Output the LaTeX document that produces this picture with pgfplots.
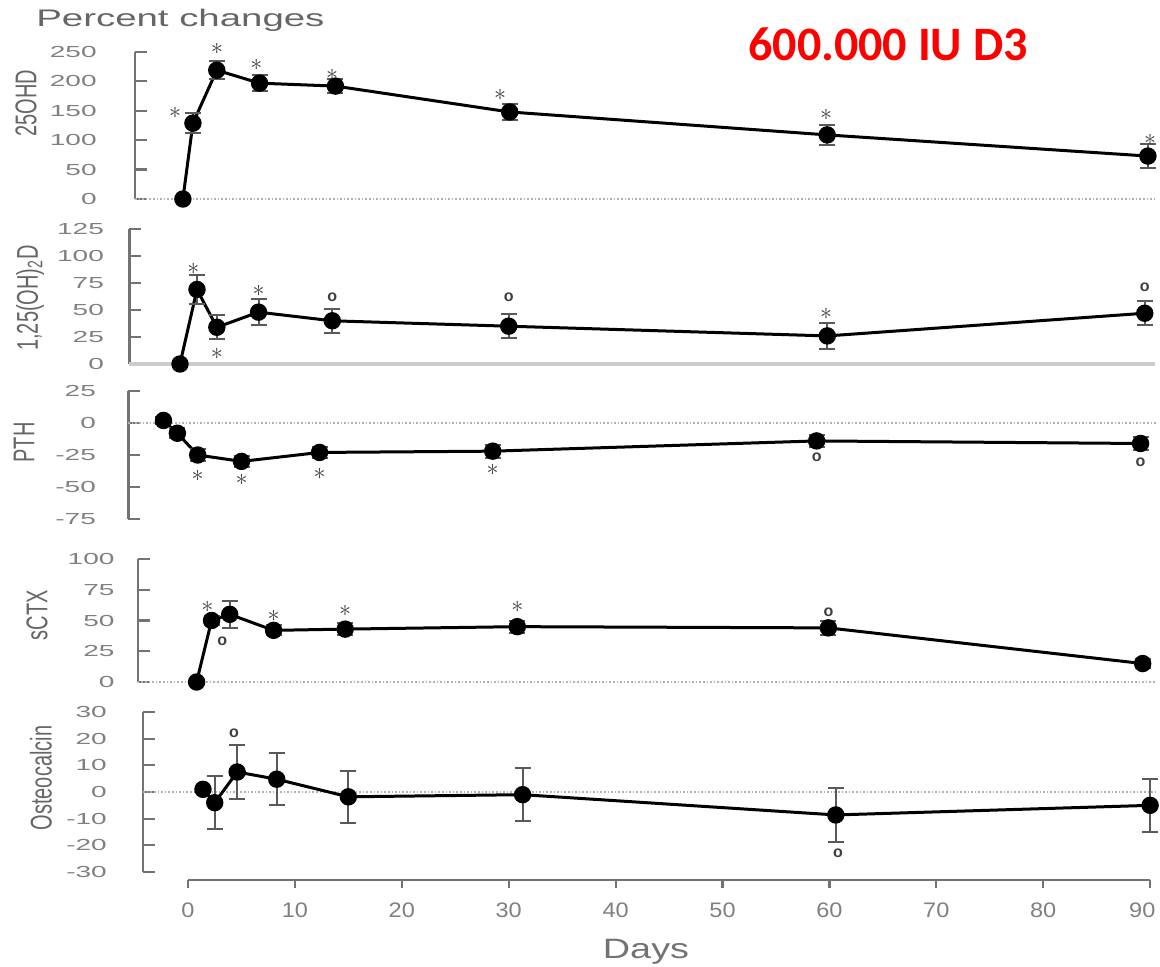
\documentclass[border=0pt]{standalone}
\usepackage{fontspec}
\setmainfont{Liberation Sans}
\newfontfamily\calibri{Carlito}
\usepackage{graphicx}
\usepackage{pgfplots}
\pgfplotsset{compat=1.18}

\newcommand\sa{{\fontsize{12}{12}\selectfont$\ast$}}
\newcommand\so{{\fontsize{8}{8}\selectfont\bfseries o}}

\pgfplotsset{
  panel/.style={
    x=5.345pt, xmax=90.5,
    axis y line*=left, axis x line=none,
    clip=false,
    y axis line style={black!55, line width=1.3pt, -},
    ytick style={black!55, line width=1.1pt},
    tick align=inside,
    major tick length=6pt,
    yticklabel style={font=\fontsize{8}{9}\selectfont, text=black!50},
    /pgf/number format/assume math mode=true,
    anchor=south west,
  },
  series/.style={black, line width=1.5pt, mark=*, mark size=3.6pt,
     mark options={solid, fill=black},
     error bars/.cd, y dir=both, y explicit,
     error bar style={black!65, line width=1pt},
     error mark options={rotate=90, mark size=4pt, black!65, line width=1pt}},
  sig/.style={only marks, mark=none, nodes near coords, point meta=explicit symbolic,
     nodes near coords style={anchor=center, text=black!75, inner sep=0pt}},
  zeroline/.style={black!30, densely dotted, line width=0.8pt, forget plot},
}

\begin{document}
\begin{tikzpicture}
\useasboundingbox (0,0) rectangle (580pt,483pt);

% ---------- Panel 1: 25OHD ----------
\begin{axis}[panel, at={(67.5pt,383.5pt)}, xmin=-4.95, y=0.294pt,
  ymin=0, ymax=250, ytick={0,50,...,250},
  yticklabel style={xshift=-13pt, xscale=1.75}]
\addplot[zeroline] coordinates {(-4.95,0) (90.5,0)};
\addplot[series] coordinates {
 (-0.47,0) +- (0,0) (0.47,129) +- (0,17) (2.7,219) +- (0,15) (6.7,197) +- (0,14)
 (13.8,192) +- (0,12) (30.1,148) +- (0,14) (59.8,109) +- (0,17) (89.8,73) +- (0,20)};
\addplot[sig] coordinates {(-1.2,146)[\sa] (2.7,255)[\sa] (6.4,228)[\sa] (13.5,211)[\sa]
 (29.2,177)[\sa] (59.7,143)[\sa] (90,100)[\sa]};
\end{axis}

% ---------- Panel 2: 1,25(OH)2D ----------
\begin{axis}[panel, at={(64.6pt,301pt)}, xmin=-5.5, y=0.54pt,
  ymin=0, ymax=125, ytick={0,25,...,125},
  yticklabel style={xshift=-6.5pt, xscale=1.75}]
\addplot[black!20, line width=2pt, forget plot] coordinates {(-5.5,0) (90.5,0)};
\addplot[series] coordinates {
 (-0.75,0) +- (0,0) (0.84,69) +- (0,13) (2.7,34) +- (0,11) (6.6,48) +- (0,12)
 (13.5,40) +- (0,11) (30,35) +- (0,11) (59.8,26) +- (0,12) (89.5,47) +- (0,11)};
\addplot[sig] coordinates {(0.5,88)[\sa] (2.7,9)[\sa] (6.6,68)[\sa] (13.5,62)[\so]
 (30,62)[\so] (59.7,46)[\sa] (89.5,71)[\so]};
\end{axis}

% ---------- Panel 3: PTH ----------
\begin{axis}[panel, at={(64.1pt,223.5pt)}, xmin=-5.6, y=0.64pt,
  ymin=-75, ymax=25, ytick={-75,-50,...,25},
  yticklabel style={xshift=-10pt, xscale=1.75}]
\addplot[zeroline] coordinates {(-5.6,0) (90.5,0)};
\addplot[series] coordinates {
 (-2.3,2) +- (0,3) (-1.0,-8) +- (0,4) (0.9,-25) +- (0,5) (5.0,-30) +- (0,4)
 (12.3,-23) +- (0,4) (28.5,-22) +- (0,5) (58.8,-14) +- (0,5) (89.1,-16) +- (0,5)};
\addplot[sig] coordinates {(0.9,-41)[\sa] (5,-44.5)[\sa] (12.3,-40)[\sa] (28.5,-37)[\sa]
 (58.8,-27)[\so] (89.1,-31)[\so]};
\end{axis}

% ---------- Panel 4: sCTX ----------
\begin{axis}[panel, at={(68.9pt,142pt)}, xmin=-4.7, y=0.615pt,
  ymin=0, ymax=100, ytick={0,25,...,100},
  yticklabel style={xshift=-5.5pt, xscale=1.75}]
\addplot[zeroline] coordinates {(-4.7,0) (90.5,0)};
\addplot[series] coordinates {
 (0.8,0) +- (0,0) (2.2,50) +- (0,4) (3.9,55) +- (0,11) (8.0,42) +- (0,4)
 (14.7,43) +- (0,5) (30.8,45) +- (0,5) (59.9,44) +- (0,6) (89.3,15) +- (0,4)};
\addplot[sig] coordinates {(1.8,61)[\sa] (3.2,33)[\so] (8,54)[\sa] (14.7,58)[\sa]
 (30.8,61)[\sa] (59.9,57)[\so]};
\end{axis}

% ---------- Panel 5: Osteocalcin ----------
\begin{axis}[panel, at={(71.55pt,47pt)}, xmin=-4.2, y=1.3333pt,
  ymin=-30, ymax=30, ytick={-30,-20,...,30},
  yticklabel style={xshift=-12pt, xscale=1.75}]
\addplot[zeroline] coordinates {(-4.2,0) (90.5,0)};
\addplot[series] coordinates {
 (1.4,1) +- (0,0) (2.5,-4) +- (0,10) (4.6,7.5) +- (0,10.3) (8.3,4.8) +- (0,9.7)
 (15,-1.8) +- (0,9.7) (31.3,-1) +- (0,10) (60.6,-8.6) +- (0,10) (90,-5) +- (0,10)};
\addplot[sig] coordinates {(4.3,22)[\so] (60.8,-23)[\so]};
\end{axis}

% ---------- shared x axis ----------
\begin{axis}[at={(94pt,43pt)}, anchor=south west, x=5.345pt, y=1pt,
  xmin=0, xmax=90, ymin=0, ymax=1,
  axis x line*=bottom, axis y line=none,
  x axis line style={black!55, line width=1.2pt, -},
  xtick={0,10,...,80}, tick align=outside, major tick length=4pt,
  extra x ticks={90},
  extra x tick style={xticklabel style={xshift=-3.5pt}},
  xtick style={black!55, line width=1.1pt},
  xticklabel style={font=\fontsize{10.5}{12}\selectfont, text=black!50, yshift=-4pt, xscale=1.12},
  /pgf/number format/assume math mode=true]
\addplot[draw=none, forget plot] coordinates {(0,0) (90,0)};
\end{axis}

% ---------- texts ----------
\node[text=black!55, font=\fontsize{14}{16}\selectfont, xscale=1.35] at (323pt,7pt) {Days};
\node[anchor=west, text=black!60, font=\fontsize{12}{14}\selectfont, xscale=1.6] at (12.5pt,473pt) {Percent changes};
\node[text=red, font=\calibri\bfseries\fontsize{24}{28}\selectfont] at (444pt,461pt) {600.000 IU D3};

\node[rotate=90, text=black!60] at (13pt,431.5pt) {\scalebox{1}[1.5]{\fontsize{10}{12}\selectfont 25OHD}};
\node[rotate=90, text=black!60] at (15pt,334pt) {\scalebox{1}[1.5]{\fontsize{10}{12}\selectfont 1,25(OH)\textsubscript{2}D}};
\node[rotate=90, text=black!60] at (12pt,261.75pt) {\scalebox{1}[1.5]{\fontsize{10}{12}\selectfont PTH}};
\node[rotate=90, text=black!60] at (18.5pt,175.5pt) {\scalebox{1}[1.5]{\fontsize{10}{12}\selectfont sCTX}};
\node[rotate=90, text=black!60] at (20.5pt,94pt) {\scalebox{1}[1.5]{\fontsize{10}{12}\selectfont Osteocalcin}};
\end{tikzpicture}
\end{document}
